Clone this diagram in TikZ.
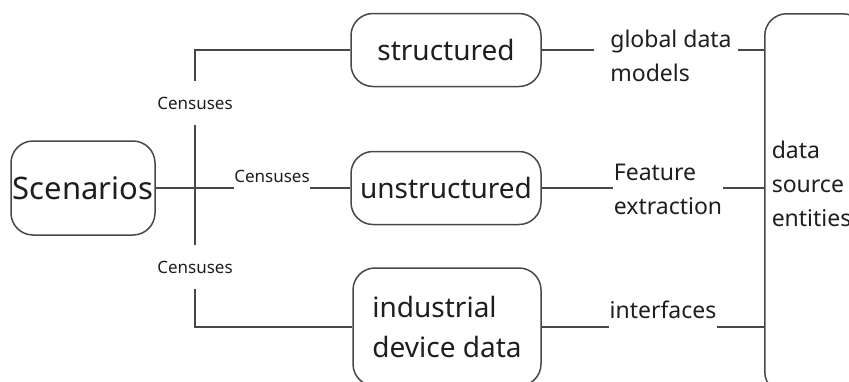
\documentclass[tikz,border=0pt]{standalone}
\usepackage{fontspec}
\setmainfont{Noto Sans}
\usepackage{xcolor}
\definecolor{ln}{HTML}{474747}
\definecolor{tx}{HTML}{1E1E1E}

\begin{document}
\begin{tikzpicture}[x=1pt, y=-1pt, line width=1.5pt, color=ln, text=tx,
        main/.style = {draw, rounded corners=22pt, inner sep=0pt, font=\fontsize{28}{40}\selectfont},
        lab/.style = {inner sep=0pt, align=left, font=\fontsize{23}{34}\selectfont},
        cen/.style = {inner sep=0pt, minimum height=43pt, font=\fontsize{17}{20}\selectfont}]
        \clip (0,0) rectangle (849,381);

        \node[main, minimum width=144pt, minimum height=94pt, font=\fontsize{31}{36}\selectfont] (scen) at (83,188) {Scenarios};
        \node[main, minimum width=190pt, minimum height=73pt] (str) at (446,50) {structured};
        \node[main, minimum width=190pt, minimum height=73pt] (uns) at (446,188) {unstructured};
        \node[main, minimum width=188pt, minimum height=118pt, align=left] (ind) at (447,327) {industrial\\device data};
        \node[main, anchor=north west, minimum width=100pt, minimum height=380pt,
              label={[lab, anchor=west, xshift=7pt, yshift=20pt]west:{data\\source\\entities}}] (ent) at (764,13) {};

        \node[cen] (c1) at (195,103) {Censuses};
        \node[cen, minimum height=0pt] (c2) at (272,176) {Censuses};
        \node[cen] (c3) at (195,267) {Censuses};

        \node[lab] (glob) at (671,56) {global data\\models};
        \node[lab] (feat) at (668,189) {Feature\\extraction};
        \node[lab] (intf) at (663,310) {interfaces};

        % left side
        \draw (str.west) -| (c1.north);
        \draw (c1.south) -- (c3.north);
        \draw (c3.south) |- (ind.west);
        \draw (scen.east) -- (scen.east -| c2.west);
        \draw (c2.east |- uns.west) -- (uns.west);

        % right side
        \draw (str.east) -- ([xshift=-16pt]str.east -| glob.west);
        \draw ([xshift=6pt]str.east -| glob.east) -- (str.east -| ent.west);
        \draw (uns.east) -- (uns.east -| feat.west);
        \draw (uns.east -| feat.east) -- (uns.east -| ent.west);
        \draw (ind.east) -- (ind.east -| intf.west);
        \draw (ind.east -| intf.east) -- (ind.east -| ent.west);
    \end{tikzpicture}
\end{document}
